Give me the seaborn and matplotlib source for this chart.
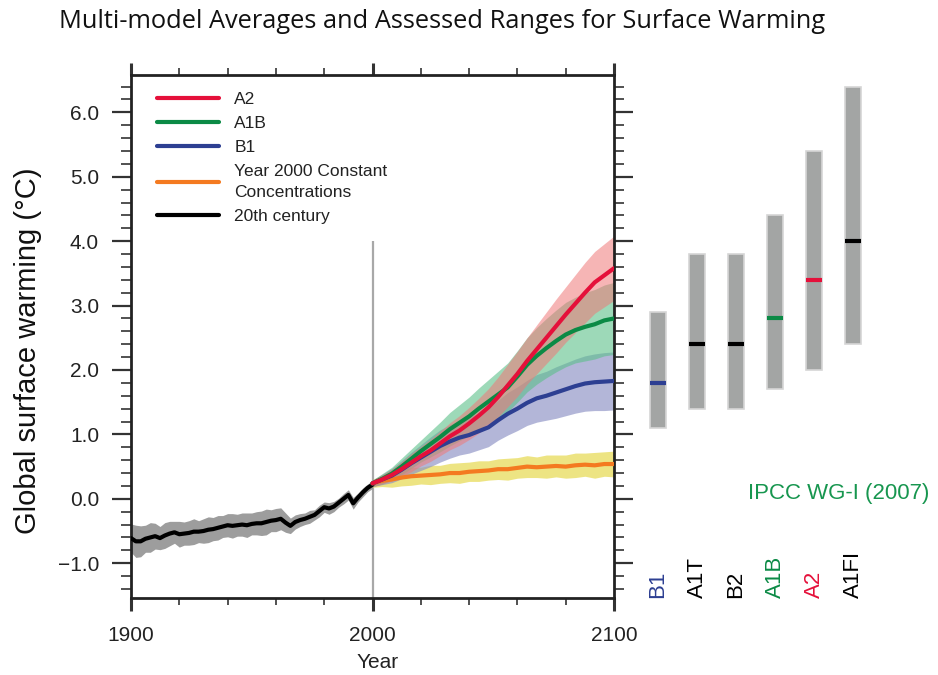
import numpy as np
import pandas as pd
import matplotlib
matplotlib.use("Agg")
import matplotlib.pyplot as plt
from matplotlib.ticker import MultipleLocator, FixedLocator
import seaborn as sns

# ---------------- data ----------------
hist_years = [1900, 1902, 1904, 1906, 1908, 1910, 1912, 1914, 1916, 1918,
              1920, 1922, 1924, 1926, 1928, 1930, 1932, 1934, 1936, 1938,
              1940, 1942, 1944, 1946, 1948, 1950, 1952, 1954, 1956, 1958,
              1960, 1962, 1964, 1966, 1968, 1970, 1972, 1974, 1976, 1978,
              1980, 1982, 1984, 1986, 1988, 1990, 1992, 1994, 1996, 1998, 2000]
hist_mean = [-0.61, -0.66, -0.66, -0.62, -0.60, -0.58, -0.61, -0.57, -0.54, -0.52,
             -0.55, -0.54, -0.53, -0.51, -0.51, -0.50, -0.48, -0.47, -0.45, -0.43,
             -0.41, -0.42, -0.41, -0.40, -0.41, -0.39, -0.38, -0.38, -0.36, -0.34,
             -0.33, -0.31, -0.37, -0.42, -0.36, -0.33, -0.31, -0.28, -0.25, -0.19,
             -0.13, -0.15, -0.12, -0.06, 0.00, 0.06, -0.07, 0.02, 0.10, 0.17, 0.22]
hist_spread = [0.22, 0.25, 0.24, 0.21, 0.23, 0.20, 0.18, 0.20, 0.19, 0.17,
               0.20, 0.18, 0.19, 0.20, 0.17, 0.19, 0.20, 0.18, 0.19, 0.17,
               0.18, 0.19, 0.17, 0.18, 0.19, 0.17, 0.18, 0.19, 0.20, 0.17,
               0.18, 0.17, 0.15, 0.12, 0.11, 0.10, 0.09, 0.10, 0.08, 0.09,
               0.08, 0.09, 0.08, 0.07, 0.08, 0.08, 0.09, 0.07, 0.07, 0.06, 0.06]

proj_years = [2000, 2004, 2008, 2012, 2016, 2020, 2024, 2028, 2032, 2036,
              2040, 2044, 2048, 2052, 2056, 2060, 2064, 2068, 2072, 2076,
              2080, 2084, 2088, 2092, 2096, 2100]
a2_mean = [0.24, 0.30, 0.37, 0.46, 0.56, 0.66, 0.75, 0.86, 0.97, 1.06,
           1.17, 1.29, 1.42, 1.58, 1.76, 1.94, 2.14, 2.32, 2.50, 2.68,
           2.86, 3.03, 3.20, 3.36, 3.47, 3.58]
a2_spread = [0.05, 0.07, 0.09, 0.11, 0.14, 0.15, 0.17, 0.19, 0.21, 0.23,
             0.25, 0.27, 0.29, 0.31, 0.33, 0.35, 0.36, 0.38, 0.40, 0.42,
             0.43, 0.45, 0.47, 0.48, 0.49, 0.50]
a1b_mean = [0.24, 0.31, 0.39, 0.50, 0.62, 0.74, 0.85, 0.96, 1.08, 1.18,
            1.28, 1.40, 1.51, 1.62, 1.73, 1.90, 2.08, 2.22, 2.34, 2.45,
            2.55, 2.62, 2.67, 2.71, 2.77, 2.80]
a1b_spread = [0.05, 0.08, 0.10, 0.13, 0.15, 0.17, 0.20, 0.23, 0.26, 0.28,
              0.30, 0.32, 0.34, 0.36, 0.38, 0.40, 0.42, 0.44, 0.46, 0.48,
              0.50, 0.51, 0.53, 0.54, 0.55, 0.56]
b1_mean = [0.24, 0.30, 0.36, 0.45, 0.55, 0.64, 0.73, 0.82, 0.89, 0.95,
           0.99, 1.05, 1.11, 1.22, 1.32, 1.40, 1.49, 1.56, 1.60, 1.65,
           1.70, 1.75, 1.79, 1.81, 1.82, 1.83]
b1_spread = [0.05, 0.08, 0.11, 0.14, 0.17, 0.20, 0.23, 0.25, 0.26, 0.27,
             0.28, 0.29, 0.30, 0.31, 0.33, 0.34, 0.35, 0.37, 0.38, 0.40,
             0.41, 0.42, 0.43, 0.44, 0.45, 0.45]
const_mean = [0.24, 0.28, 0.30, 0.33, 0.35, 0.36, 0.37, 0.38, 0.40, 0.40,
              0.42, 0.43, 0.44, 0.46, 0.46, 0.48, 0.50, 0.49, 0.50, 0.51,
              0.50, 0.52, 0.53, 0.52, 0.54, 0.54]
const_spread = [0.06, 0.09, 0.12, 0.13, 0.14, 0.13, 0.15, 0.14, 0.15, 0.16,
                0.15, 0.16, 0.15, 0.16, 0.17, 0.16, 0.17, 0.16, 0.18, 0.17,
                0.18, 0.19, 0.18, 0.20, 0.19, 0.20]

scenarios = ["B1", "A1T", "B2", "A1B", "A2", "A1FI"]
range_low = [1.1, 1.4, 1.4, 1.7, 2.0, 2.4]
range_high = [2.9, 3.8, 3.8, 4.4, 5.4, 6.4]
best_est = [1.8, 2.4, 2.4, 2.8, 3.4, 4.0]

ytick_values = [-1.0, 0.0, 1.0, 2.0, 3.0, 4.0, 5.0, 6.0]
ytick_labels = ["\u22121.0", "0.0", "1.0", "2.0", "3.0", "4.0", "5.0", "6.0"]
xtick_values = [1900, 2000, 2100]
xtick_labels = ["1900", "2000", "2100"]
divider_year = 2000
divider_top = 4.0

# ---------------- style ----------------
sns.set_style("white")
plt.rcParams["font.family"] = ["Liberation Sans", "DejaVu Sans"]

C_RED = "#e5103a"
C_GREEN = "#0b8a45"
C_BLUE = "#2d3f92"
C_ORANGE = "#f47a20"
C_BLACK = "#000000"

fig = plt.figure(figsize=(9.38, 6.75), dpi=100)
W, H = 938, 675
ax = fig.add_axes([131 / W, (H - 598) / H, 483 / W, 523 / H])
ax2 = fig.add_axes([630 / W, (H - 598) / H, 250 / W, 523 / H])

YMIN, YMAX = -1.54, 6.58

# divider line
ax.vlines(divider_year, YMIN, divider_top, color="#a8a8a8", lw=1.6, zorder=1)

hist = pd.DataFrame({"year": hist_years, "mean": hist_mean, "spread": hist_spread})
proj = pd.DataFrame({"year": proj_years,
                     "a2": a2_mean, "a2s": a2_spread,
                     "a1b": a1b_mean, "a1bs": a1b_spread,
                     "b1": b1_mean, "b1s": b1_spread,
                     "c": const_mean, "cs": const_spread})

# bands
ax.fill_between(hist["year"], hist["mean"] - hist["spread"], hist["mean"] + hist["spread"],
                color="#8c8c8c", alpha=0.85, lw=0, zorder=2)
ax.fill_between(proj["year"], proj["c"] - proj["cs"], proj["c"] + proj["cs"],
                color="#e8dc5a", alpha=0.75, lw=0, zorder=2)
ax.fill_between(proj["year"], proj["b1"] - proj["b1s"], proj["b1"] + proj["b1s"],
                color="#8a90c4", alpha=0.65, lw=0, zorder=2)
ax.fill_between(proj["year"], proj["a1b"] - proj["a1bs"], proj["a1b"] + proj["a1bs"],
                color="#5cc08a", alpha=0.6, lw=0, zorder=2)
ax.fill_between(proj["year"], proj["a2"] - proj["a2s"], proj["a2"] + proj["a2s"],
                color="#f07878", alpha=0.55, lw=0, zorder=2)

# lines
sns.lineplot(data=hist, x="year", y="mean", color=C_BLACK, lw=3, ax=ax,
             label="20th century", zorder=3)
sns.lineplot(data=proj, x="year", y="c", color=C_ORANGE, lw=3, ax=ax,
             label="Year 2000 Constant\nConcentrations", zorder=3)
sns.lineplot(data=proj, x="year", y="b1", color=C_BLUE, lw=3, ax=ax, label="B1", zorder=3)
sns.lineplot(data=proj, x="year", y="a1b", color=C_GREEN, lw=3, ax=ax, label="A1B", zorder=3)
sns.lineplot(data=proj, x="year", y="a2", color=C_RED, lw=3, ax=ax, label="A2", zorder=3)

handles, labels = ax.get_legend_handles_labels()
order = ["A2", "A1B", "B1", "Year 2000 Constant\nConcentrations", "20th century"]
hmap = dict(zip(labels, handles))
leg = ax.legend([hmap[k] for k in order], order, loc="upper left",
                bbox_to_anchor=((157 - 131) / 483, (598 - 92) / 523),
                frameon=False, fontsize=12.5, borderpad=0, borderaxespad=0,
                handlelength=3.55, handletextpad=0.9, labelspacing=0.5)
for t in leg.get_texts():
    t.set_linespacing(1.55)
    t.set_color("#222222")

ax.set_xlim(1900, 2100)
ax.set_ylim(YMIN, YMAX)
ax.set_xlabel("")
ax.set_ylabel("")
ax.xaxis.set_major_locator(FixedLocator(xtick_values))
ax.set_xticklabels(xtick_labels)
ax.xaxis.set_minor_locator(MultipleLocator(20))
ax.yaxis.set_major_locator(FixedLocator(ytick_values))
ax.set_yticklabels(ytick_labels)
ax.yaxis.set_minor_locator(MultipleLocator(0.2))
ax.tick_params(axis="both", which="both", direction="out", colors="#333333",
               labelcolor="#222222", labelsize=15)
ax.tick_params(axis="y", which="major", length=14, width=1.6, left=True, right=True, pad=9)
ax.tick_params(axis="y", which="minor", length=7, width=1.2, left=True, right=True)
ax.tick_params(axis="x", which="major", length=9, width=2.2, top=True, bottom=True, pad=11)
ax.tick_params(axis="x", which="minor", length=5, width=1.2, top=True, bottom=True)
for s in ax.spines.values():
    s.set_visible(True)
    s.set_color("#222222")
    s.set_linewidth(2.0)

# ---------------- right-hand ranges ----------------
pos = np.arange(len(scenarios))
ax2.bar(pos, np.array(range_high) - np.array(range_low), bottom=range_low,
        width=0.42, color="#a3a5a4", edgecolor="#d6d6d6", linewidth=1.2, zorder=2)
mean_colors = [C_BLUE, C_BLACK, C_BLACK, C_GREEN, C_RED, C_BLACK]
ax2.hlines(best_est, pos - 0.21, pos + 0.21, colors=mean_colors, lw=3, zorder=3)
ax2.set_xlim(-0.718, 5.69)
ax2.set_ylim(YMIN, YMAX)
ax2.axis("off")
for p, name, c in zip(pos, scenarios, mean_colors):
    ax2.text(p, YMIN, name, rotation=90, ha="center", va="bottom",
             fontsize=16, color=c)

# ---------------- texts ----------------
fig.text(442 / W, (H - 22) / H, "Multi-model Averages and Assessed Ranges for Surface Warming",
         ha="center", va="center", fontsize=18.3, family=["Open Sans", "DejaVu Sans"],
         color="#111111")
fig.text(28 / W, (H - 351) / H, "Global surface warming (\u00b0C)", rotation=90,
         ha="center", va="center", fontsize=21, color="#111111")
fig.text(378 / W, (H - 663) / H, "Year", ha="center", va="center", fontsize=15,
         color="#222222")
fig.text(748 / W, (H - 494) / H, "IPCC WG-I (2007)", ha="left", va="center",
         fontsize=16, color="#17964f")

fig.savefig("out.png", dpi=100)
